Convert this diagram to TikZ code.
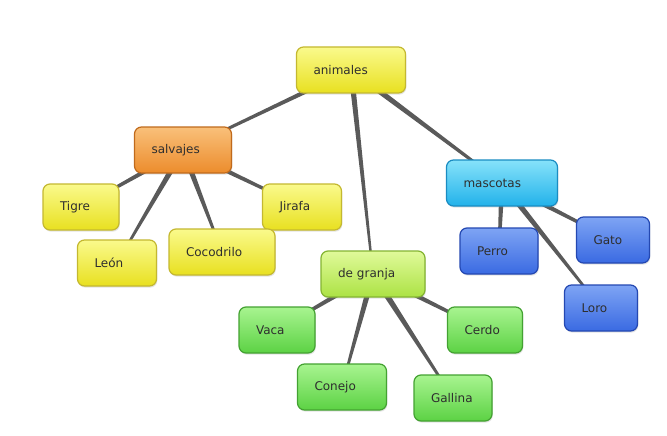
\documentclass[tikz,border=0pt]{standalone}
\usepackage{fontspec}
\setmainfont{DejaVu Sans}
\usetikzlibrary{calc,shadows}
\pgfdeclarelayer{background}
\pgfdeclarelayer{canvas}
\pgfsetlayers{canvas,background,main}
\definecolor{txt}{HTML}{2E2E2E}
\definecolor{conn}{HTML}{5A5A5A}
\definecolor{yelT}{HTML}{FAFA8C}
\definecolor{yelM}{HTML}{E8E020}
\definecolor{yelB}{HTML}{C4B830}
\definecolor{orgT}{HTML}{F9C07A}
\definecolor{orgM}{HTML}{EC8C2C}
\definecolor{orgB}{HTML}{C06A1C}
\definecolor{cyaT}{HTML}{86E2FA}
\definecolor{cyaM}{HTML}{22B2EA}
\definecolor{cyaB}{HTML}{1A8CC2}
\definecolor{bluT}{HTML}{7EA4F4}
\definecolor{bluM}{HTML}{3A6AE2}
\definecolor{bluB}{HTML}{2448B2}
\definecolor{grnT}{HTML}{A8F490}
\definecolor{grnM}{HTML}{5CD244}
\definecolor{grnB}{HTML}{44A232}
\definecolor{lgrT}{HTML}{E0FA9A}
\definecolor{lgrM}{HTML}{ACE244}
\definecolor{lgrB}{HTML}{84B432}
\newcommand\taper[4]{\fill[conn] ($(#1)!#3!90:(#2)$) -- ($(#2)!#4!-90:(#1)$) -- ($(#2)!#4!90:(#1)$) -- ($(#1)!#3!-90:(#2)$) -- cycle;}
\begin{document}
\begin{tikzpicture}[x=1pt,y=-1pt,
  box/.style={rectangle, rounded corners=7pt, line width=1.2pt, minimum height=46pt,
    inner xsep=17pt, inner ysep=0pt, text width=#1, align=left,
    font=\fontsize{12}{14}\selectfont, text=txt,
    drop shadow={opacity=0.22,shadow xshift=0.8pt,shadow yshift=-1.6pt}},
  yel/.style={draw=yelB, top color=yelT, bottom color=yelM},
  org/.style={draw=orgB, top color=orgT, bottom color=orgM},
  cya/.style={draw=cyaB, top color=cyaT, bottom color=cyaM},
  blu/.style={draw=bluB, top color=bluT, bottom color=bluM},
  grn/.style={draw=grnB, top color=grnT, bottom color=grnM},
  lgr/.style={draw=lgrB, top color=lgrT, bottom color=lgrM}]
\begin{pgfonlayer}{canvas}
\fill[white] (0,0) rectangle (667,436);
\end{pgfonlayer}
\useasboundingbox (0,0) rectangle (667,436);

\node[box=75pt, yel] (animales) at (351,70) {animales};
\node[box=63pt, org] (salvajes) at (183,150) {salvajes};
\node[box=42pt, yel] (tigre) at (81,207) {Tigre};
\node[box=45pt, yel] (jirafa) at (302,207) {Jirafa};
\node[box=45pt, yel] (leon) at (117,263) {León};
\node[box=72pt, yel] (cocodrilo) at (222,252) {Cocodrilo};
\node[box=77pt, cya] (mascotas) at (502,183) {mascotas};
\node[box=44pt, blu] (perro) at (499,251) {Perro};
\node[box=39pt, blu] (gato) at (613,240) {Gato};
\node[box=39pt, blu] (loro) at (601,308) {Loro};
\node[box=70pt, lgr] (granja) at (373,274) {de granja};
\node[box=42pt, grn] (vaca) at (277,330) {Vaca};
\node[box=41pt, grn] (cerdo) at (485,330) {Cerdo};
\node[box=55pt, grn] (conejo) at (342,387) {Conejo};
\node[box=44pt, grn] (gallina) at (453,398) {Gallina};

\begin{pgfonlayer}{background}
\taper{animales}{salvajes}{2.4pt}{1.2pt}
\taper{animales}{granja}{2.8pt}{1pt}
\taper{animales}{mascotas}{3pt}{1.2pt}
\taper{salvajes}{tigre}{2.6pt}{1.2pt}
\taper{salvajes}{leon}{3pt}{0.9pt}
\taper{salvajes}{cocodrilo}{3pt}{1pt}
\taper{salvajes}{jirafa}{2.6pt}{1.2pt}
\taper{mascotas}{perro}{2.6pt}{1.4pt}
\taper{mascotas}{gato}{2.8pt}{1.2pt}
\taper{mascotas}{loro}{3pt}{1pt}
\taper{granja}{vaca}{2.8pt}{1.2pt}
\taper{granja}{conejo}{3pt}{1pt}
\taper{granja}{gallina}{3.2pt}{1pt}
\taper{granja}{cerdo}{2.8pt}{1.2pt}
\end{pgfonlayer}
\end{tikzpicture}
\end{document}
